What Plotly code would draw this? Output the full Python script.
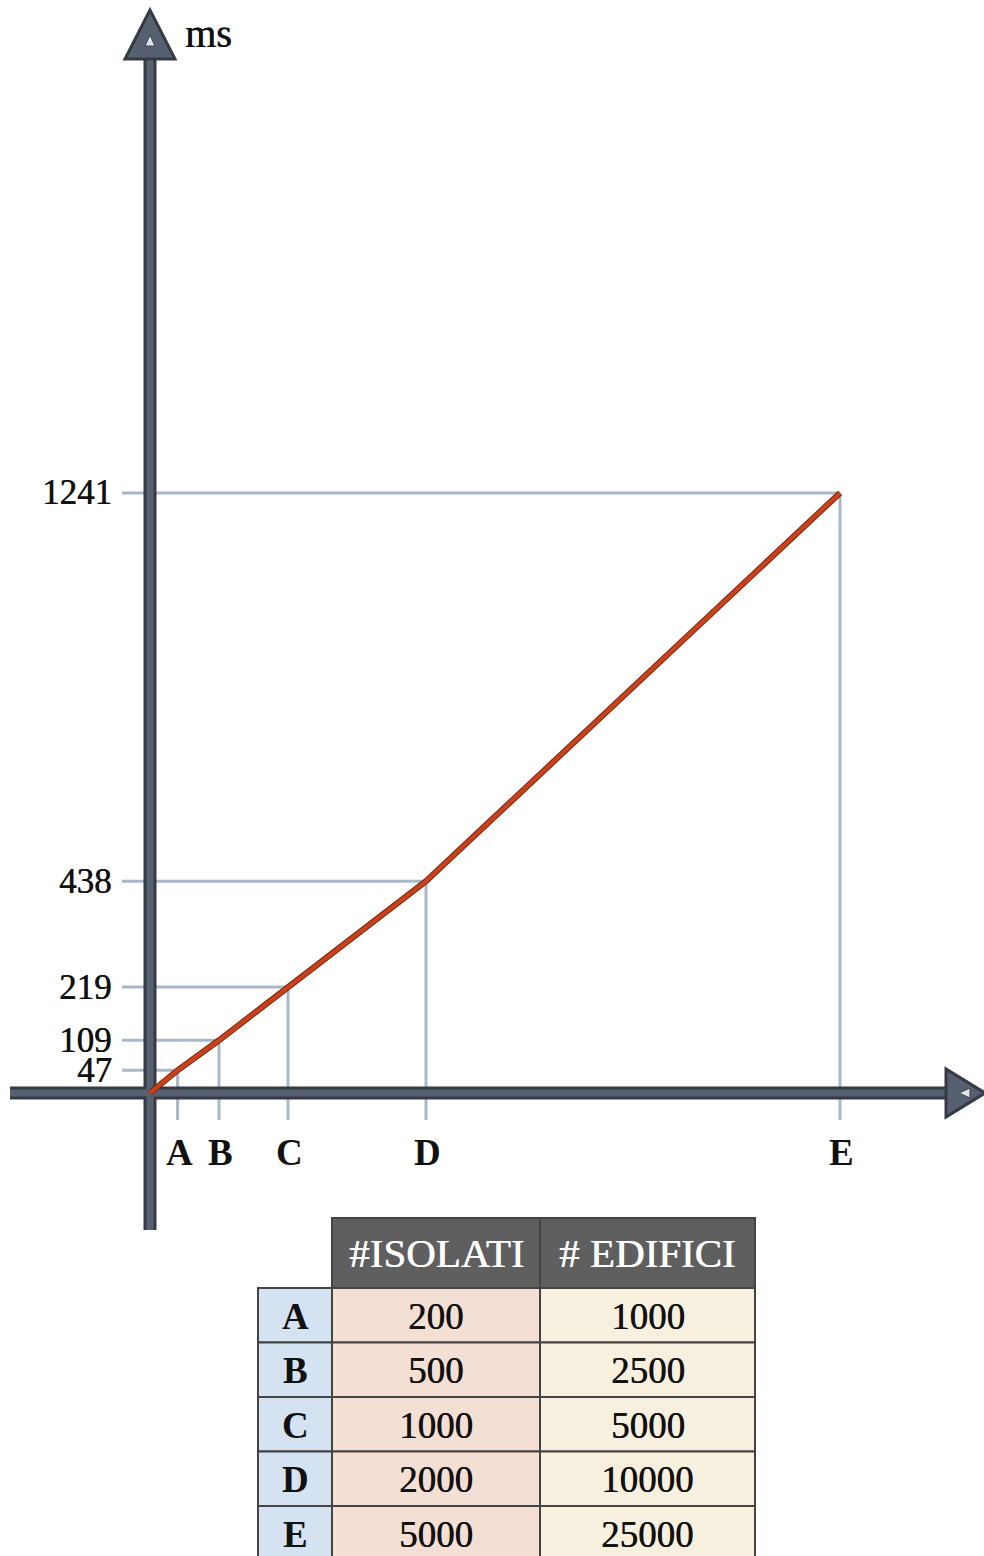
import plotly.graph_objects as go

# Benchmark data: timing (ms) by number of blocks / buildings
labels = ["A", "B", "C", "D", "E"]
isolati = [200, 500, 1000, 2000, 5000]
edifici = [1000, 2500, 5000, 10000, 25000]
ms = [47, 109, 219, 438, 1241]

W, H = 984, 1556
# pixel geometry of the axes origin and scale
OX, OY = 150, 1093
SX = 0.138   # px per isolato
SY = 0.4835  # px per ms


def dx(px):
    return (px - OX) / SX


def dy(py):
    return (OY - py) / SY


def pxp(px):
    return px / W


def pyp(py):
    return 1 - py / H


FONT = "Liberation Serif"
INK = "#111111"
HEAVY = "0.6px 0px 0px #111111"   # slightly heavier strokes for the serif digits
AXIS_DARK = "#353b45"
AXIS_MID = "#576070"
GUIDE = "#a9b8c8"

shapes = []
annotations = []

# guide lines from each point to the axes
for x, y in zip(isolati, ms):
    shapes.append(dict(type="line", xref="x", yref="y", x0=dx(122), x1=x, y0=y, y1=y,
                       line=dict(color=GUIDE, width=3), layer="below"))
    shapes.append(dict(type="line", xref="x", yref="y", x0=x, x1=x, y0=y, y1=dy(1120),
                       line=dict(color=GUIDE, width=3), layer="below"))

# axes shafts (two-tone for a bevelled look)
for col, w in [(AXIS_DARK, 13), (AXIS_MID, 7)]:
    shapes.append(dict(type="line", xref="x", yref="y", x0=0, x1=0, y0=dy(1230), y1=dy(56),
                       line=dict(color=col, width=w), layer="below"))
    shapes.append(dict(type="line", xref="x", yref="y", x0=dx(10), x1=dx(948), y0=0, y1=0,
                       line=dict(color=col, width=w), layer="below"))


def tri(pts):
    return "M " + " L ".join(f"{dx(a)},{dy(b)}" for a, b in pts) + " Z"


# arrow heads
shapes.append(dict(type="path", xref="x", yref="y", path=tri([(150, 10), (125, 59), (175, 59)]),
                   fillcolor=AXIS_MID, line=dict(color=AXIS_DARK, width=3), layer="below"))
shapes.append(dict(type="path", xref="x", yref="y", path=tri([(150, 35), (145, 46), (155, 46)]),
                   fillcolor="#dfe2e6", line=dict(color="#3a414c", width=1), layer="below"))
shapes.append(dict(type="path", xref="x", yref="y", path=tri([(985, 1093), (946, 1069), (946, 1117)]),
                   fillcolor=AXIS_MID, line=dict(color=AXIS_DARK, width=3), layer="below"))
shapes.append(dict(type="path", xref="x", yref="y", path=tri([(959, 1093), (970, 1088), (970, 1098)]),
                   fillcolor="#dfe2e6", line=dict(color="#3a414c", width=1), layer="below"))

# value labels on the y axis
for y in ms:
    annotations.append(dict(xref="x", yref="y", x=dx(114), y=y, text=str(y), showarrow=False,
                            xanchor="right", yanchor="middle",
                            font=dict(family=FONT, size=35, color=INK, shadow=HEAVY)))
annotations.append(dict(xref="x", yref="y", x=dx(183), y=dy(33), text="ms", showarrow=False,
                        xanchor="left", yanchor="middle",
                        font=dict(family=FONT, size=40, color=INK, shadow=HEAVY)))

# category letters under the x axis
for lab, x in zip(labels, isolati):
    annotations.append(dict(xref="x", yref="y", x=x + dx(151.5) - dx(150), y=dy(1152), text=f"<b>{lab}</b>",
                            showarrow=False, xanchor="center", yanchor="middle",
                            font=dict(family=FONT, size=37, color=INK)))

# table below the chart
col_edges = [258, 332, 540, 755]
head_top, head_bot = 1218, 1288
row_h = 54.5
BORDER = "#444444"
fills = ["#d4e2f2", "#f3dfd3", "#f8f0de"]
headers = ["#ISOLATI", "# EDIFICI"]

for j, htxt in enumerate(headers):
    x0, x1 = col_edges[j + 1], col_edges[j + 2]
    shapes.append(dict(type="rect", xref="paper", yref="paper", x0=pxp(x0), x1=pxp(x1),
                       y0=pyp(head_bot), y1=pyp(head_top), fillcolor="#5f5f5f",
                       line=dict(color=BORDER, width=2), layer="above"))
    annotations.append(dict(xref="paper", yref="paper", x=pxp((x0 + x1) / 2), y=pyp((head_top + head_bot) / 2),
                            text=htxt, showarrow=False, xanchor="center", yanchor="middle",
                            font=dict(family=FONT, size=41, color="#ffffff",
                                      shadow="0.6px 0px 0px #ffffff")))

columns = [labels, isolati, edifici]
for i in range(len(labels)):
    top = head_bot + i * row_h
    bot = top + row_h
    for j, col in enumerate(columns):
        x0, x1 = col_edges[j], col_edges[j + 1]
        shapes.append(dict(type="rect", xref="paper", yref="paper", x0=pxp(x0), x1=pxp(x1),
                           y0=pyp(bot), y1=pyp(top), fillcolor=fills[j],
                           line=dict(color=BORDER, width=2), layer="above"))
        if j == 0:
            txt, fnt = f"<b>{col[i]}</b>", dict(family=FONT, size=37, color=INK)
        else:
            txt, fnt = str(col[i]), dict(family=FONT, size=37, color=INK, shadow=HEAVY)
        annotations.append(dict(xref="paper", yref="paper", x=pxp((x0 + x1) / 2), y=pyp((top + bot) / 2 + 1),
                                text=txt, showarrow=False, xanchor="center", yanchor="middle", font=fnt))

fig = go.Figure()
line_x = [0] + isolati
line_y = [0] + ms
fig.add_trace(go.Scatter(x=line_x, y=line_y, mode="lines", line=dict(color="#7e2710", width=6),
                         hoverinfo="skip", showlegend=False))
fig.add_trace(go.Scatter(x=line_x, y=line_y, mode="lines", line=dict(color="#c9421b", width=4),
                         showlegend=False))

fig.update_layout(
    width=W, height=H,
    margin=dict(l=0, r=0, t=0, b=0),
    paper_bgcolor="white", plot_bgcolor="rgba(0,0,0,0)",
    xaxis=dict(range=[dx(0), dx(W)], visible=False, fixedrange=True),
    yaxis=dict(range=[dy(H), dy(0)], visible=False, fixedrange=True),
    shapes=shapes, annotations=annotations, showlegend=False,
)

fig.write_html("out.html")
